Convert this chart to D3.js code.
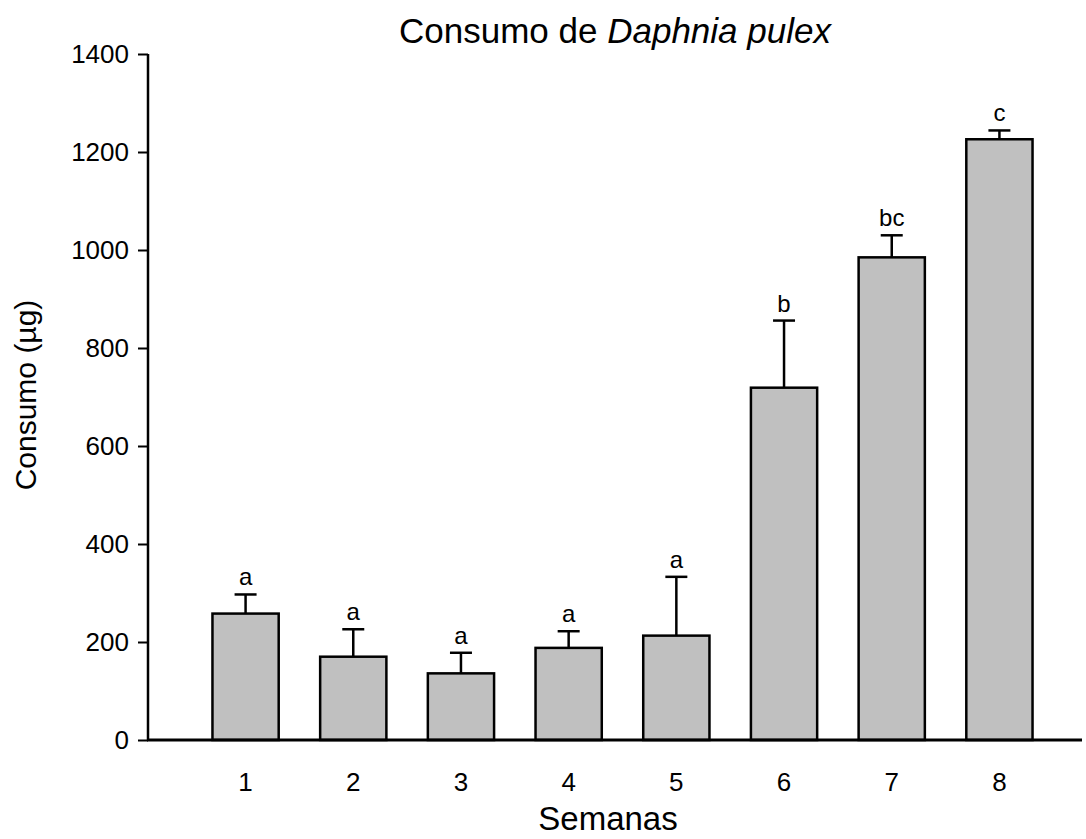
<!DOCTYPE html>
<html>
<head>
<meta charset="utf-8">
<script src="https://cdn.jsdelivr.net/npm/d3@7"></script>
<style>
  html, body { margin: 0; padding: 0; background: #fff; }
  svg { display: block; font-family: "Liberation Sans", Arial, sans-serif; }
</style>
</head>
<body>
<svg id="chart" width="1086" height="839"></svg>
<script>
// Weekly consumption of Daphnia pulex (mean ± SE) with significance letters
const weeks = ["1", "2", "3", "4", "5", "6", "7", "8"];
const consumo = [258, 170, 136, 188, 213, 719, 985, 1226];
const errorTop = [297, 226, 178, 222, 333, 856, 1030, 1244];
const letters = ["a", "a", "a", "a", "a", "b", "bc", "c"];
const yTicks = [0, 200, 400, 600, 800, 1000, 1200, 1400];

const svg = d3.select("#chart");
const FONT = "Liberation Sans, Arial, sans-serif";

const plotLeft = 148, plotRight = 1082;
const y = d3.scaleLinear().domain([0, 1400]).range([740, 54]);
const x = d3.scaleBand().domain(weeks).range([192, 1053]).paddingInner(0.385).paddingOuter(0.19);

// Bars
svg.append("g").selectAll("rect")
  .data(weeks)
  .join("rect")
  .attr("x", d => x(d))
  .attr("width", x.bandwidth())
  .attr("y", (d, i) => y(consumo[i]))
  .attr("height", (d, i) => y(0) - y(consumo[i]))
  .attr("fill", "#c0c0c0")
  .attr("stroke", "#000")
  .attr("stroke-width", 2.5);

// Error bars (upper only)
const eb = svg.append("g").attr("stroke", "#000").attr("stroke-width", 2.5);
weeks.forEach((d, i) => {
  const cx = x(d) + x.bandwidth() / 2;
  eb.append("line").attr("x1", cx).attr("x2", cx)
    .attr("y1", y(consumo[i])).attr("y2", y(errorTop[i]));
  eb.append("line").attr("x1", cx - 11).attr("x2", cx + 11)
    .attr("y1", y(errorTop[i])).attr("y2", y(errorTop[i]));
});

// Significance letters
svg.append("g").selectAll("text")
  .data(weeks)
  .join("text")
  .attr("x", d => x(d) + x.bandwidth() / 2)
  .attr("y", (d, i) => y(errorTop[i]) - 9)
  .attr("text-anchor", "middle")
  .attr("font-size", 24)
  .attr("fill", "#000")
  .text((d, i) => letters[i]);

// Y axis
const yAxis = svg.append("g")
  .attr("transform", `translate(${plotLeft},0)`)
  .call(d3.axisLeft(y).tickValues(yTicks).tickFormat(d3.format("d"))
    .tickSize(10).tickPadding(9).tickSizeOuter(0));
yAxis.select(".domain").attr("stroke-width", 2.5).attr("d", `M0,${y(1400)}V${y(0)}`);
yAxis.selectAll(".tick line").attr("stroke-width", 2);
yAxis.selectAll(".tick text").attr("font-size", 26).attr("fill", "#000")
  .attr("font-family", FONT);

// X axis baseline and labels (no tick marks)
const xAxis = svg.append("g")
  .attr("transform", `translate(0,${y(0)})`)
  .call(d3.axisBottom(x).tickSize(0).tickPadding(33));
xAxis.select(".domain").attr("stroke-width", 3).attr("d", `M${plotLeft - 1},0H${plotRight}`);
xAxis.selectAll(".tick text").attr("font-size", 26).attr("fill", "#000")
  .attr("font-family", FONT);

// Axis titles
svg.append("text")
  .attr("x", 608).attr("y", 830)
  .attr("text-anchor", "middle").attr("font-size", 33)
  .text("Semanas");

svg.append("text")
  .attr("transform", "translate(36,395) rotate(-90)")
  .attr("text-anchor", "middle").attr("font-size", 30)
  .text("Consumo (µg)");

// Title with italic species name
const title = svg.append("text")
  .attr("x", 615).attr("y", 43)
  .attr("text-anchor", "middle").attr("font-size", 35);
title.append("tspan").text("Consumo de ");
title.append("tspan").attr("font-style", "italic").text("Daphnia pulex");
</script>
</body>
</html>
